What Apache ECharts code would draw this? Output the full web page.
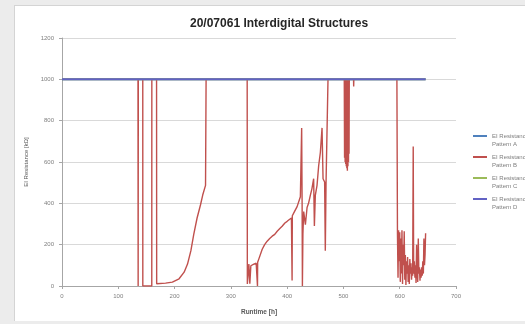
<!DOCTYPE html>
<html>
<head>
<meta charset="utf-8">
<script src="https://cdn.jsdelivr.net/npm/echarts@6/dist/echarts.min.js"></script>
<style>
  html, body { margin: 0; padding: 0; background: #ececec; width: 525px; height: 324px; overflow: hidden; }
  #chart { position: absolute; left: 14px; top: 5px; width: 511px; height: 316px; background: #ffffff; border-left: 1px solid #d4d4d4; border-top: 1px solid #d4d4d4; box-sizing: border-box; }
</style>
</head>
<body>
<div id="chart"></div>
<script>
// Runtime [h] and resistance [kOhm] samples for each interdigital pattern
const seriesNames = ['EI Resistance Pattern A', 'EI Resistance Pattern B', 'EI Resistance Pattern C', 'EI Resistance Pattern D'];

// Patterns A, C and D stay at the 1000 kOhm limit for the whole run
const hoursFlat = [0, 646];
const valuesFlat = [1000, 1000];

// Pattern B: drops, recovery curves and noisy periods
const hoursB = [
  0, 135, 135.3, 135.6, 143.5, 143.6, 159.5, 159.6, 168, 168.2,
  184, 196, 208, 217, 223, 229, 234, 240, 246, 250, 255, 256,
  329, 329.3, 332, 333.7, 335.5, 340.8, 345, 347, 347.3, 347.6, 349.6, 355.7, 360, 364.5,
  369, 373.4, 378, 382.3, 387, 391.1, 396, 400, 404, 407.6, 408.5, 408.8, 409.2, 413,
  417.7, 423.5, 425, 425.8, 426.6, 427.1, 428, 429.4, 432.4, 435.4, 438, 441.3, 444,
  447.1, 448.4, 450.1, 453.1, 456, 459, 462, 463.8, 466.6, 467.8, 469.1, 470.9, 472.6,
  501.5, 502, 502.5, 503, 503.5, 504, 504.5, 505, 505.5, 506, 506.5, 507, 507.5, 508,
  508.5, 509, 509.5, 510, 510.4, 518, 518.2, 518.5,
  595, 596, 597, 598, 599, 600, 601, 602, 603, 604, 605, 606, 607, 608, 609, 610,
  611, 612, 613, 614, 615, 616, 617, 618, 619, 620, 621, 622, 623, 624, 624.8, 626,
  627, 628, 629, 630, 631, 632, 633, 634, 635, 636, 637, 638, 639, 640, 641, 642,
  643, 644, 645, 646
];
const valuesB = [
  1000, 1000, 0, 1000, 1000, 0, 0, 1000, 1000, 11,
  14, 19, 35, 67, 106, 171, 249, 329, 392, 440, 487, 1000,
  1000, 10, 106, 11, 98, 106, 110, 112, 0, 115, 130, 178, 200, 217,
  230, 241, 250, 265, 278, 289, 305, 313, 322, 329, 329, 27, 340, 360,
  384, 432, 430, 765, 400, 0, 250, 360, 297, 380, 400, 440, 470,
  519, 290, 440, 487, 582, 646, 765, 519, 503, 170, 500, 497, 1000,
  1000, 620, 1000, 600, 1000, 590, 990, 580, 1000, 570, 980, 558, 1000, 580,
  990, 600, 1000, 640, 1000, 1000, 965, 1000,
  1000, 250, 40, 270, 120, 260, 20, 230, 60, 270, 10, 200, 100, 265, 30, 150,
  5, 120, 60, 140, 20, 100, 10, 130, 60, 110, 30, 90, 50, 675, 60, 120,
  40, 100, 15, 200, 80, 20, 230, 60, 90, 25, 80, 40, 90, 50, 120, 60,
  230, 100, 150, 255
];

const xTicks = { min: 0, max: 700, step: 100 };
const yTicks = { min: 0, max: 1200, step: 200 };

const colors = ['#4F81BD', '#C0504D', '#9BBB59', '#6262C4'];

function pairs(xs, ys) {
  return xs.map((x, i) => [x, ys[i]]);
}

const seriesData = [
  pairs(hoursFlat, valuesFlat),
  pairs(hoursB, valuesB),
  pairs(hoursFlat, valuesFlat),
  pairs(hoursFlat, valuesFlat)
];

const chart = echarts.init(document.getElementById('chart'), null, { renderer: 'canvas' });

const axisText = { color: '#7f7f7f', fontSize: 6, fontFamily: 'Liberation Sans' };

chart.setOption({
  animation: false,
  color: colors,
  title: {
    text: '20/07061 Interdigital Structures',
    left: 170,
    top: 7,
    textStyle: { fontFamily: 'Liberation Sans', fontWeight: 'bold', fontSize: 12, color: '#262626' }
  },
  legend: {
    orient: 'vertical',
    left: 458,
    top: 118,
    padding: 0,
    icon: 'rect',
    itemWidth: 14,
    itemHeight: 2,
    itemGap: -3,
    data: seriesNames,
    // first wrapped line sits level with the line sample, second line below it
    formatter: (name) => ' \n' + name.replace(' Pattern', '\nPattern'),
    textStyle: { color: '#7f7f7f', fontSize: 6, lineHeight: 8, fontFamily: 'Liberation Sans' }
  },
  grid: { left: 47, right: 69, top: 32, bottom: 32 },
  xAxis: {
    type: 'value',
    min: xTicks.min,
    max: xTicks.max,
    interval: xTicks.step,
    name: 'Runtime [h]',
    nameLocation: 'middle',
    nameGap: 23,
    nameTextStyle: { color: '#595959', fontSize: 6.5, fontWeight: 'bold', fontFamily: 'Liberation Sans' },
    axisLine: { lineStyle: { color: '#a6a6a6', width: 1 } },
    axisTick: { show: true, length: 3, lineStyle: { color: '#a6a6a6' } },
    axisLabel: Object.assign({ margin: 7, formatter: (v) => String(v) }, axisText),
    splitLine: { show: false }
  },
  yAxis: {
    type: 'value',
    min: yTicks.min,
    max: yTicks.max,
    interval: yTicks.step,
    name: 'EI Resistance [kΩ]',
    nameLocation: 'middle',
    nameGap: 32,
    nameTextStyle: { color: '#595959', fontSize: 6, fontFamily: 'Liberation Sans' },
    axisLine: { show: true, lineStyle: { color: '#a6a6a6', width: 1 } },
    axisTick: { show: true, length: 3, lineStyle: { color: '#a6a6a6' } },
    axisLabel: Object.assign({ margin: 8, formatter: (v) => String(v) }, axisText),
    splitLine: { show: true, lineStyle: { color: '#d9d9d9', width: 1 } }
  },
  series: seriesNames.map((name, i) => ({
    name: name,
    type: 'line',
    data: seriesData[i],
    symbol: 'none',
    z: i === 3 ? 5 : 2 + i * 0.1,
    lineStyle: { color: colors[i], width: i === 1 ? 1.4 : 2 }
  }))
});
</script>
</body>
</html>
